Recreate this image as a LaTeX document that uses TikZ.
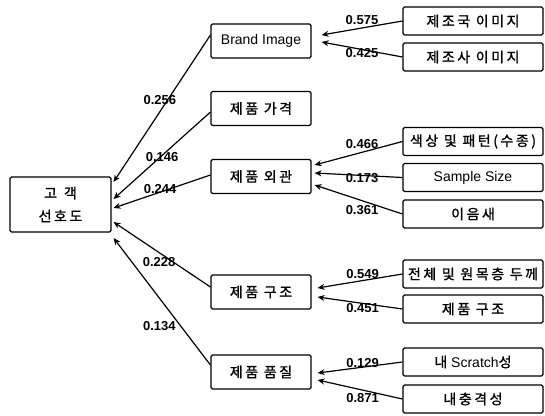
\documentclass[tikz,border=0pt]{standalone}
\usepackage{fontspec}
\setmainfont{Liberation Sans}
\newfontfamily\kr[LetterSpace=18, FakeBold=1.2]{Noto Sans CJK KR}
\usepackage{tikz}
\usetikzlibrary{positioning, arrows.meta, calc}

\begin{document}
\begin{tikzpicture}[
  x=1pt, y=-1pt,
  font=\fontsize{14}{16}\selectfont,
  box/.style={rectangle, rounded corners=1.5pt, draw, line width=1.1pt,
              align=center, inner sep=2pt},
  goal/.style={box, minimum width=101pt, minimum height=55pt},
  factor/.style={box, minimum width=100pt, minimum height=34pt},
  item/.style={box, minimum width=140pt, minimum height=28pt},
  arr/.style={-{Stealth[length=7pt, width=6pt]}, line width=1.2pt},
  wt/.style={font=\fontsize{13}{15}\selectfont\bfseries, inner sep=1pt}
]
\useasboundingbox (0,0) rectangle (545,415);

% Left: goal
\node[goal] (pref) at (60.5,204.5) {\kr 고\enspace 객\\[7pt]\kr 선호도};

% Middle: factors
\node[factor] (bi) at (261,41) {Brand Image};
\node[factor] (price) at (261,108.5) {\kr 제품 가격};
\node[factor] (look) at (261,176.5) {\kr 제품 외관};
\node[factor] (struct) at (261,292) {\kr 제품 구조};
\node[factor] (qual) at (261,372) {\kr 제품 품질};

% Right: items
\node[item] (r1) at (473,21) {\kr 제조국 이미지};
\node[item] (r2) at (473,57) {\kr 제조사 이미지};
\node[item] (r3) at (473,141.5) {\kr 색상 및 패턴(수종)};
\node[item] (r4) at (473,177.5) {Sample Size};
\node[item] (r5) at (473,214) {\kr 이음새};
\node[item] (r6) at (473,274) {\kr 전체 및 원목층 두께};
\node[item] (r7) at (473,309) {\kr 제품 구조};
\node[item] (r8) at (473,362) {{\kr 내} Scratch{\kr 성}};
\node[item] (r9) at (473,399) {\kr 내충격성};

% Arrows: items -> factors
\draw[arr] (r1.west) -- ($(bi.east)+(10,-6)$) node[wt, pos=.5, yshift=8pt] {0.575};
\draw[arr] (r2.west) -- ($(bi.east)+(10,1)$) node[wt, pos=.5, yshift=-3.5pt] {0.425};
\draw[arr] (r3.west) -- ($(look.east)+(3,-11.5)$) node[wt, pos=.46, yshift=8pt] {0.466};
\draw[arr] (r4.west) -- ($(look.east)+(3,-3.5)$) node[wt, pos=.46, yshift=-2.5pt] {0.173};
\draw[arr] (r5.west) -- ($(look.east)+(3,8.5)$) node[wt, pos=.46, yshift=-9pt] {0.361};
\draw[arr] (r6.west) -- ($(struct.east)+(6,-4)$) node[wt, pos=.47, yshift=6.5pt] {0.549};
\draw[arr] (r7.west) -- ($(struct.east)+(6,5)$) node[wt, pos=.47, yshift=-4.5pt] {0.451};
\draw[arr] (r8.west) -- ($(qual.east)+(6,1)$) node[wt, pos=.47, yshift=4pt] {0.129};
\draw[arr] (r9.west) -- ($(qual.east)+(6,8)$) node[wt, pos=.47, yshift=-7.5pt] {0.871};

% Arrows: factors -> goal
\draw[arr] ($(bi.west)+(0,-6)$) -- ($(pref.east)+(2,-22.5)$) node[wt, pos=.44, xshift=-8pt] {0.256};
\draw[arr] ($(price.west)+(0,3.5)$) -- ($(pref.east)+(2,-5.5)$) node[wt, pos=.52, xshift=2pt] {0.146};
\draw[arr] ($(look.west)+(0,-1.5)$) -- ($(pref.east)+(2,3.5)$) node[wt, pos=.52, yshift=3pt] {0.244};
\draw[arr] ($(struct.west)+(0,-5)$) -- ($(pref.east)+(2,17.5)$) node[wt, pos=.53, yshift=-9pt] {0.228};
\draw[arr] ($(qual.west)+(0,-7)$) -- ($(pref.east)+(2,33.5)$) node[wt, pos=.31, xshift=-21pt] {0.134};
\end{tikzpicture}
\end{document}
